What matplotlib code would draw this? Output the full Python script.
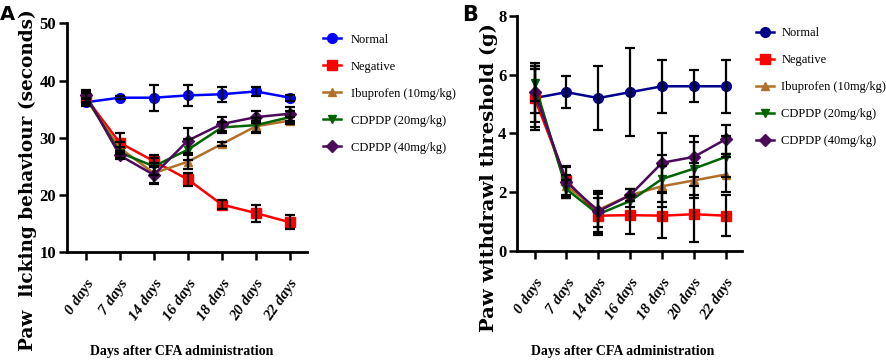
import numpy as np
import matplotlib.pyplot as plt

days = ["0 days", "7 days", "14 days", "16 days", "18 days", "20 days", "22 days"]
groups = ["Normal", "Negative", "Ibuprofen (10mg/kg)", "CDPDP (20mg/kg)", "CDPDP (40mg/kg)"]

# panel A: paw licking (seconds)
lick_normal = [36.2, 37.0, 37.0, 37.4, 37.6, 38.1, 37.0]
lick_normal_err = [0.7, 0.3, 2.3, 1.8, 1.3, 0.8, 0.5]
lick_negative = [37.0, 29.1, 25.9, 22.7, 18.3, 16.8, 15.2]
lick_negative_err = [1.0, 1.8, 1.0, 1.2, 0.8, 1.5, 1.2]
lick_ibu = [36.8, 28.2, 23.8, 25.8, 28.9, 32.0, 33.0]
lick_ibu_err = [1.0, 1.0, 1.8, 1.2, 0.4, 1.0, 0.6]
lick_cd20 = [37.2, 27.4, 25.0, 27.9, 31.8, 32.2, 33.6]
lick_cd20_err = [1.0, 1.0, 1.5, 1.8, 1.0, 1.3, 1.0]
lick_cd40 = [37.5, 26.9, 23.5, 29.5, 32.4, 33.6, 34.2]
lick_cd40_err = [0.8, 0.7, 1.6, 2.2, 1.3, 1.0, 1.2]

# panel B: paw withdrawal threshold (g)
pwt_normal = [5.2, 5.4, 5.2, 5.4, 5.6, 5.6, 5.6]
pwt_normal_err = [1.1, 0.55, 1.1, 1.5, 0.9, 0.55, 0.9]
pwt_negative = [5.2, 2.4, 1.2, 1.22, 1.2, 1.25, 1.2]
pwt_negative_err = [1.0, 0.5, 0.6, 0.63, 0.77, 0.95, 0.7]
pwt_ibu = [5.5, 2.2, 1.4, 1.9, 2.2, 2.4, 2.6]
pwt_ibu_err = [0.8, 0.4, 0.6, 0.2, 0.7, 0.6, 0.6]
pwt_cd20 = [5.7, 2.1, 1.25, 1.7, 2.45, 2.8, 3.2]
pwt_cd20_err = [0.6, 0.3, 0.7, 0.2, 0.8, 0.9, 0.7]
pwt_cd40 = [5.4, 2.35, 1.35, 1.9, 3.0, 3.2, 3.8]
pwt_cd40_err = [1.0, 0.5, 0.7, 0.2, 1.0, 0.7, 0.5]

colors_a = ["#0000ff", "#ff0000", "#b0702a", "#006400", "#4b0a5a"]
colors_b = ["#00008b", "#ff0000", "#b0702a", "#006400", "#4b0a5a"]
markers = ["o", "s", "^", "v", "D"]
msizes = [7, 7, 6, 6, 6]

serif = "Liberation Serif"


def draw(ax, series, errs, colors, ylim, yticks):
    x = np.arange(len(days))
    handles = []
    for i in range(len(groups)):
        h, = ax.plot(x, series[i], color=colors[i], marker=markers[i],
                     markersize=msizes[i], linewidth=1.8, zorder=3, label=groups[i])
        ax.errorbar(x, series[i], yerr=errs[i], fmt="none", ecolor="black",
                    elinewidth=1.6, capsize=3.5, capthick=1.6, zorder=4)
        handles.append(h)
    ax.set_xlim(-0.56, 6.5)
    ax.set_ylim(*ylim)
    ax.set_yticks(yticks)
    ax.set_xticks(x)
    ax.set_xticklabels(days, rotation=55, ha="right", va="top", rotation_mode="anchor",
                       fontfamily=serif, fontweight="bold", fontstyle="italic", fontsize=11)
    for lab in ax.get_yticklabels():
        lab.set_fontfamily(serif)
        lab.set_fontweight("bold")
        lab.set_fontsize(12)
    ax.spines["top"].set_visible(False)
    ax.spines["right"].set_visible(False)
    ax.spines["left"].set_linewidth(2)
    ax.spines["bottom"].set_linewidth(2)
    ax.tick_params(width=1.8, length=6, pad=1.5)
    ax.tick_params(axis="x", pad=12)
    return handles


fig = plt.figure(figsize=(8.86, 3.6), dpi=100)

ax1 = fig.add_axes([0.0753, 0.30, 0.2712, 0.635])
h1 = draw(ax1,
          [lick_normal, lick_negative, lick_ibu, lick_cd20, lick_cd40],
          [lick_normal_err, lick_negative_err, lick_ibu_err, lick_cd20_err, lick_cd40_err],
          colors_a, (10, 50), [10, 20, 30, 40, 50])
fig.legend(handles=h1, loc="upper left", bbox_to_anchor=(0.352, 0.9375), frameon=False,
           prop={"family": serif, "size": 9}, handlelength=1.4, handletextpad=0.8,
           labelspacing=1.2)

ax2 = fig.add_axes([0.5832, 0.3028, 0.254, 0.6536])
h2 = draw(ax2,
          [pwt_normal, pwt_negative, pwt_ibu, pwt_cd20, pwt_cd40],
          [pwt_normal_err, pwt_negative_err, pwt_ibu_err, pwt_cd20_err, pwt_cd40_err],
          colors_b, (0, 8), [0, 2, 4, 6, 8])
fig.legend(handles=h2, loc="upper left", bbox_to_anchor=(0.841, 0.956), frameon=False,
           prop={"family": serif, "size": 9}, handlelength=1.4, handletextpad=0.6,
           labelspacing=1.2)

# axis titles
fig.text(28 / 886, 0.5, "Paw  licking behaviour (seconds)", rotation=90,
         ha="center", va="center", fontfamily="DejaVu Serif", fontweight="bold", fontsize=13.3)
fig.text(489 / 886, 0.506, "Paw withdrawl threshold (g)", rotation=90,
         ha="center", va="center", fontfamily="DejaVu Serif", fontweight="bold", fontsize=14)
fig.text(182 / 886, 0.025, "Days after CFA administration", ha="center", va="center",
         fontfamily=serif, fontweight="bold", fontsize=10)
fig.text(623 / 886, 0.025, "Days after CFA administration", ha="center", va="center",
         fontfamily=serif, fontweight="bold", fontsize=10)

fig.text(0.0, 0.985, "A", fontsize=14, fontweight="bold", va="top", ha="left")
fig.text(462 / 886, 0.985, "B", fontsize=15, fontweight="bold", va="top", ha="left")

fig.savefig("out.png", dpi=100)
